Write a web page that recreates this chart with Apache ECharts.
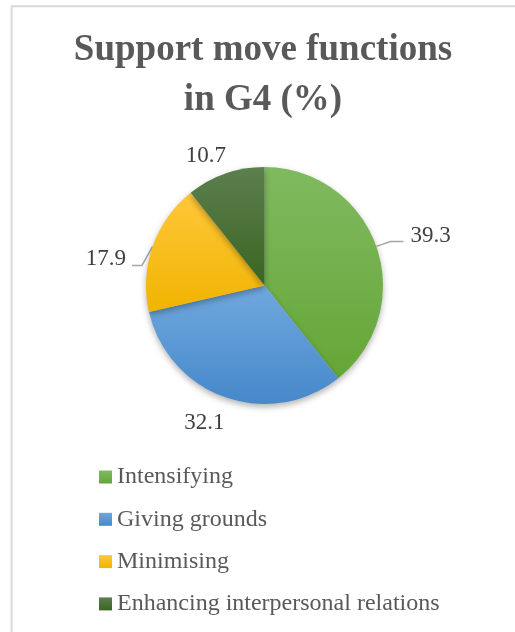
<!DOCTYPE html>
<html>
<head>
<meta charset="utf-8">
<script src="https://cdn.jsdelivr.net/npm/echarts@6/dist/echarts.min.js"></script>
<style>
html,body{margin:0;padding:0;background:#fff;}
#chart{width:515px;height:632px;}
</style>
</head>
<body>
<div id="chart"></div>
<script>
const titleText = 'Support move functions\nin G4 (%)';
const categories = ['Intensifying', 'Giving grounds', 'Minimising', 'Enhancing interpersonal relations'];
const values = [39.3, 32.1, 17.9, 10.7];

const gradients = [
  ['#80ba60', '#65a637'],
  ['#70a8de', '#4688ca'],
  ['#ffc73a', '#f0b400'],
  ['#5c7f4e', '#3a6522']
];
const lineSettings = [
  {show: true, length: 15, length2: 13},
  {show: false, length: 15, length2: 0},
  {show: true, length: 6, length2: 10},
  {show: false, length: 10, length2: 0}
];
const labelShift = [
  {dx: 2, dy: -6},
  {dx: 9, dy: 11},
  {dx: -6, dy: 15},
  {dx: 9, dy: -8}
];
// shift of the label line's bend and end points (start stays on the slice edge)
const lineShift = [null, null, {dx: -5, dy: 21}, null];

const chart = echarts.init(document.getElementById('chart'), null, {renderer: 'canvas'});
const serif = '"Liberation Serif", "Times New Roman", serif';

const data = categories.map((name, i) => ({
  name: name,
  value: values[i],
  itemStyle: {
    color: new echarts.graphic.LinearGradient(0, 0, 0, 1, [
      {offset: 0, color: gradients[i][0]},
      {offset: 1, color: gradients[i][1]}
    ])
  },
  labelLine: lineSettings[i]
}));

chart.setOption({
  animation: false,
  backgroundColor: '#ffffff',
  graphic: [{
    type: 'rect',
    shape: {x: 11.6, y: 6.2, width: 620, height: 700},
    style: {fill: 'none', stroke: '#d9d9d9', lineWidth: 2},
    silent: true
  }, {
    type: 'text',
    x: 263,
    y: 25,
    silent: true,
    style: {
      text: titleText,
      align: 'center',
      verticalAlign: 'top',
      fontFamily: serif,
      fontWeight: 'bold',
      fontSize: 37,
      lineHeight: 50,
      fill: '#595959'
    }
  }],
  legend: {
    orient: 'vertical',
    left: 99,
    top: 465,
    padding: 0,
    itemWidth: 13,
    itemHeight: 13,
    itemGap: 18.3,
    icon: 'rect',
    data: categories,
    textStyle: {
      fontFamily: serif,
      fontSize: 24,
      lineHeight: 24,
      color: '#595959'
    }
  },
  series: [{
    type: 'pie',
    center: [264.5, 285.5],
    radius: 118.5,
    startAngle: 90,
    clockwise: true,
    avoidLabelOverlap: false,
    data: data,
    itemStyle: {
      shadowBlur: 6,
      shadowOffsetY: 3,
      shadowColor: 'rgba(0,0,0,0.3)'
    },
    label: {
      show: true,
      position: 'outside',
      formatter: '{c}',
      fontFamily: serif,
      fontSize: 23,
      color: '#404040',
      distanceToLabelLine: 5
    },
    labelLine: {
      lineStyle: {color: '#a6a6a6', width: 1.5}
    },
    labelLayout: function (params) {
      const i = params.dataIndex;
      const s = labelShift[i];
      const out = {dx: s.dx, dy: s.dy};
      const ls = lineShift[i];
      const pts = params.labelLinePoints;
      if (ls && pts && pts.length >= 3) {
        out.labelLinePoints = [
          [pts[0][0], pts[0][1]],
          [pts[1][0] + ls.dx, pts[1][1] + ls.dy],
          [pts[2][0] + ls.dx, pts[2][1] + ls.dy]
        ];
      }
      return out;
    }
  }]
});
</script>
</body>
</html>
